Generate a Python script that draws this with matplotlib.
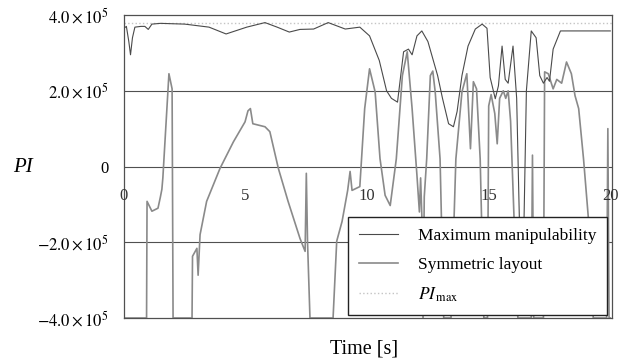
#!/usr/bin/env python3

import numpy as np
import matplotlib.pyplot as plt

plt.rcParams['font.family'] = ['Liberation Serif', 'DejaVu Serif']
plt.rcParams['mathtext.fontset'] = 'stix'

#- Maximum manipulability (values in 1e5)
max_t = [0.0, 0.1, 0.2, 0.27, 0.35, 0.45, 0.7, 0.86, 1.0, 1.15, 1.5, 2.5, 3.5, 4.2,
         5.05, 5.8, 6.3, 6.8, 7.24, 7.8, 8.4, 9.1, 9.7, 10.1, 10.5, 10.8, 11.0, 11.25,
         11.5, 11.7, 11.85, 12.05, 12.25, 12.5, 12.9, 13.1, 13.35, 13.55, 13.7, 13.9,
         14.15, 14.45, 14.73, 14.93, 15.06, 15.27, 15.4, 15.55, 15.68, 15.8, 16.0,
         16.15, 16.3, 16.45, 16.55, 16.75, 16.95, 17.1, 17.25, 17.4, 17.5, 17.65,
         17.95, 20.0]
max_v = [3.65, 3.7, 3.3, 2.95, 3.4, 3.68, 3.7, 3.7, 3.62, 3.76, 3.78, 3.76, 3.68, 3.5,
         3.68, 3.8, 3.68, 3.55, 3.62, 3.63, 3.8, 3.63, 3.68, 3.45, 2.8, 2.0, 1.8, 1.7,
         3.03, 3.1, 2.95, 3.45, 3.58, 3.3, 2.4, 1.8, 1.13, 1.05, 1.45, 2.4,
         3.18, 3.63, 3.76, 3.65, 2.35, 1.79, 2.13, 3.18, 2.3, 2.2, 3.18,
         1.8, -2.5, -1.5, 2.0, 3.58, 3.4, 2.4, 2.2, 2.35, 2.25, 3.1,
         3.58, 3.58]

#- Symmetric layout (values in 1e5)
sym_t = [0.0, 0.93, 0.95, 1.15, 1.4, 1.5, 1.56, 1.6, 1.85, 1.98, 2.02, 2.8, 2.82, 3.0,
         3.05, 3.13, 3.4, 3.95, 4.5, 4.98, 5.1, 5.2, 5.3, 5.8, 6.0, 6.35, 6.75, 7.24,
         7.45, 7.5, 7.55, 7.65, 8.6, 8.75, 8.97, 9.2, 9.3, 9.38, 9.7, 9.9, 10.1, 10.33,
         10.53, 10.74, 10.95, 11.2, 11.45, 11.65, 11.85, 12.05, 12.15, 12.2, 12.25,
         12.3, 12.35, 12.45, 12.6, 12.7, 12.8, 13.0, 13.15, 13.45, 13.65, 13.9, 14.1,
         14.25, 14.37, 14.5, 14.65, 14.8, 14.95, 15.0, 15.1, 15.25, 15.35, 15.45, 15.6,
         15.7, 15.8, 15.9, 16.05, 16.2, 16.75, 16.8, 16.85, 17.25, 17.3, 17.45, 17.65,
         17.8, 18.0, 18.2, 18.4, 18.55, 18.7, 18.9, 19.1, 19.3, 19.85, 19.9, 19.95, 20.0]
sym_v = [-4.0, -4.0, -0.92, -1.18, -1.1, -0.8, -0.6, -0.3, 2.45, 2.05, -4.0, -4.0, -2.37, -2.16,
         -2.87, -1.8, -0.92, -0.05, 0.65, 1.18, 1.47, 1.53, 1.13, 1.05, 0.92, -0.05, -0.92, -1.9,
         -2.24, -0.18, -2.0, -4.0, -4.0, -1.97, -1.45, -0.63, -0.13, -0.63, -0.53, 1.53, 2.58, 1.97,
         0.21, -0.76, -1.03, 0.2, 2.4, 3.03, 1.53, -0.24, -1.2, -0.3, -1.3,
         -4.0, -0.8, 0.2, 2.4, 2.52, 1.97, 0.2, -4.0, -4.0, 0.2, 1.97, 2.45,
         0.47, 2.24, 2.05, 0.2, -4.0, -4.0, 1.6, 1.9, 1.4, 0.6, 1.8, 2.0,
         1.8, 2.0, 1.2, -1.5, -4.0, -4.0, 0.3, -4.0, -4.0, 2.5, 2.45, 2.05,
         2.3, 2.2, 2.76, 2.45, 1.87, 1.53, 0.2, -1.37, -4.0, -4.0, 1.0, -4.0, -4.0]

pi_max = 3.8
scale = 1e5

y_ticks = [4.0, 2.0, 0.0, -2.0, -4.0]
y_labels = [r'$4.0\times10^{5}$', r'$2.0\times10^{5}$', '0',
            r'$-2.0\times10^{5}$', r'$-4.0\times10^{5}$']
x_ticks = [0, 5, 10, 15, 20]

fig = plt.figure(figsize=(6.26, 3.62), dpi=100)
ax = fig.add_axes([0.198, 0.1215, 0.78, 0.837])

ax.plot(np.array(sym_t), np.array(sym_v)*scale, color='#8a8a8a', lw=1.2,
        label='Symmetric layout', zorder=2)
ax.plot(np.array(max_t), np.array(max_v)*scale, color='#4a4a4a', lw=0.8,
        label='Maximum manipulability', zorder=3)
ax.axhline(pi_max*scale, color='#c4c4c4', lw=1.0, ls=':', label=r'$PI_{\,\mathrm{max}}$', zorder=1)

for yv in [2.0, 0.0, -2.0]:
    ax.axhline(yv*scale, color='#505050', lw=0.8, zorder=1)

ax.set_xlim(0, 20.08)
ax.set_ylim(-4.0*scale, 4.0*scale)
ax.set_yticks([v*scale for v in y_ticks])
ax.set_yticklabels(y_labels, fontsize=12)
ax.set_xticks([])
ax.tick_params(axis='y', length=0, pad=11)
for s in ax.spines.values():
    s.set_color('#505050')
    s.set_linewidth(0.9)

#- x tick labels sit inside the axes just under the zero line
for xt in x_ticks:
    ax.text(xt, -0.79*scale, str(xt), ha='center', va='center', fontsize=12,
            color='#333333', zorder=4)

fig.text(0.037, 1 - 168/362, 'PI', fontsize=15, style='italic', ha='center', va='center')
fig.text(0.582, 0.035, 'Time [s]', fontsize=14.5, ha='center', va='center')

h, l = ax.get_legend_handles_labels()
order = [1, 0, 2]
leg = ax.legend([h[i] for i in order], [l[i] for i in order], loc='lower right',
                bbox_to_anchor=(0.99, 0.01), borderaxespad=0, fontsize=12.5,
                fancybox=False, framealpha=1, edgecolor='#222222',
                handlelength=2.2, handletextpad=1.15, labelspacing=0.72,
                borderpad=0.65)
leg.get_frame().set_linewidth(1.0)
leg.set_zorder(5)

plt.savefig("out.png", dpi=100)
